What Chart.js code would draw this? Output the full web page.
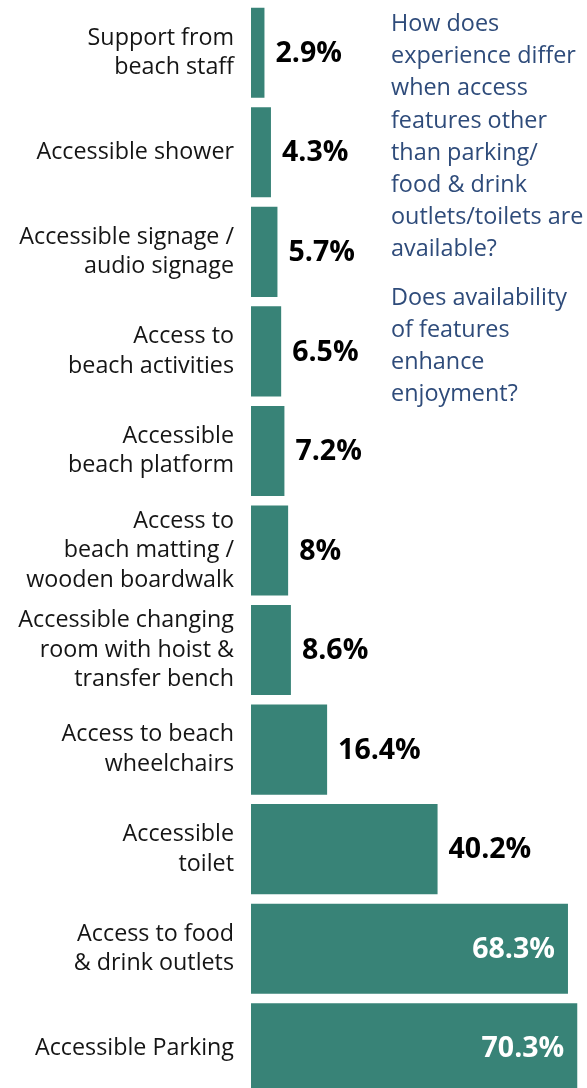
<!DOCTYPE html>
<html>
<head>
<meta charset="utf-8">
<script src="https://cdn.jsdelivr.net/npm/chart.js@4.4.1/dist/chart.umd.min.js"></script>
<style>
  html, body { margin: 0; padding: 0; background: #ffffff; overflow: hidden; }
  #wrap { position: relative; width: 587px; height: 1098px; }
  #chart { display: block; }
  #note {
    position: absolute; left: 391px; top: 6px; width: 220px; white-space: nowrap;
    font-family: "Open Sans", sans-serif; font-size: 23.4px; line-height: 32.2px;
    color: #2e4b7a;
  }
  #note p { margin: 0 0 16px 0; }
</style>
</head>
<body>
<div id="wrap">
  <canvas id="chart" width="587" height="1098"></canvas>
  <div id="note">
    <p>How does<br>experience differ<br>when access<br>features other<br>than parking/<br>food &amp; drink<br>outlets/toilets are<br>available?</p>
    <p>Does availability<br>of features<br>enhance<br>enjoyment?</p>
  </div>
</div>
<script>
// Access features available at the beach, share of respondents (%)
const categories = [
  ["Support from", "beach staff"],
  ["Accessible shower"],
  ["Accessible signage /", "audio signage"],
  ["Access to", "beach activities"],
  ["Accessible", "beach platform"],
  ["Access to", "beach matting /", "wooden boardwalk"],
  ["Accessible changing", "room with hoist &", "transfer bench"],
  ["Access to beach", "wheelchairs"],
  ["Accessible", "toilet"],
  ["Access to food", "& drink outlets"],
  ["Accessible Parking"]
];
const values = [2.9, 4.3, 5.7, 6.5, 7.2, 8, 8.6, 16.4, 40.2, 68.3, 70.3];

const BAR = '#388377';

// Writes each bar's percentage beside it, or inside it for the long bars
const valueLabels = {
  id: 'valueLabels',
  afterDatasetsDraw(chart) {
    const ctx = chart.ctx;
    const meta = chart.getDatasetMeta(0);
    ctx.save();
    ctx.font = 'bold 28.5px "Open Sans", sans-serif';
    ctx.textBaseline = 'middle';
    meta.data.forEach((bar, i) => {
      const v = values[i];
      const text = v + '%';
      if (v > 60) {
        ctx.fillStyle = '#ffffff';
        ctx.textAlign = 'right';
        ctx.fillText(text, bar.x - 13, bar.y + 1);
      } else {
        ctx.fillStyle = '#000000';
        ctx.textAlign = 'left';
        ctx.fillText(text, bar.x + 11, bar.y + 1);
      }
    });
    ctx.restore();
  }
};

new Chart(document.getElementById('chart'), {
  type: 'bar',
  data: {
    labels: categories,
    datasets: [{
      data: values,
      backgroundColor: BAR,
      borderWidth: 0,
      barPercentage: 0.905,
      categoryPercentage: 1
    }]
  },
  options: {
    indexAxis: 'y',
    responsive: false,
    animation: false,
    layout: { padding: { top: 3, left: 0, right: 0, bottom: 0 } },
    plugins: { legend: { display: false }, tooltip: { enabled: false } },
    scales: {
      x: {
        min: 0, max: 72.4,
        display: false
      },
      y: {
        grid: { display: false, drawTicks: false },
        border: { display: false },
        afterFit(scale) {
          scale.width = 251;
          scale.paddingTop = 0;
          scale.paddingBottom = 0;
        },
        ticks: {
          padding: 17,
          crossAlign: 'near',
          color: '#151515',
          font: { family: '"Open Sans", sans-serif', size: 23.3, lineHeight: 1.27 }
        }
      }
    }
  },
  plugins: [valueLabels]
});
</script>
</body>
</html>
